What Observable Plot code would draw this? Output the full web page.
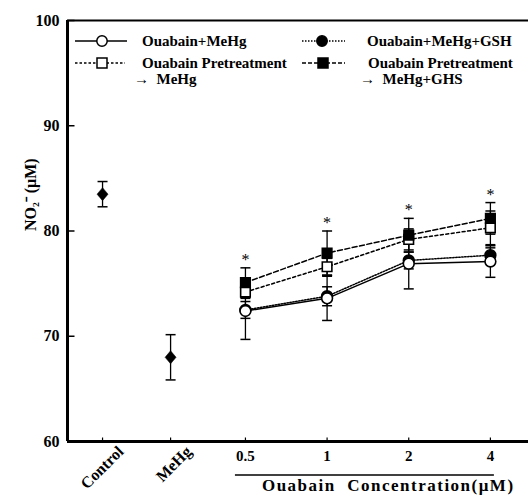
<!DOCTYPE html>
<html><head><meta charset="utf-8">
<script src="https://cdn.jsdelivr.net/npm/d3@7"></script>
<script src="https://cdn.jsdelivr.net/npm/@observablehq/plot@0.6"></script>
<style>
body{margin:0;background:#fff}
#chart svg{display:block}
</style>
</head><body><div id="chart"></div>
<script>
// ---- data ----
const categories = ["Control", "MeHg", "0.5", "1", "2", "4"];
const concentrations = ["0.5", "1", "2", "4"];
const singleGroups = ["Control", "MeHg"];
const singleMean = [83.5, 68.0];
const singleErr = [1.2, 2.15];

const seriesNames = ["Ouabain+MeHg", "Ouabain+MeHg+GSH", "Ouabain Pretreatment → MeHg", "Ouabain Pretreatment → MeHg+GHS"];
const ouabainMeHg = [72.4, 73.6, 76.9, 77.1];
const ouabainMeHgErr = [2.7, 2.1, 2.4, 1.5];
const ouabainMeHgGSH = [72.5, 73.8, 77.2, 77.7];
const ouabainMeHgGSHErr = [0.8, 0.9, 0.8, 0.7];
const pretreatMeHg = [74.2, 76.6, 79.2, 80.3];
const pretreatMeHgErr = [0.6, 0.8, 1.0, 1.6];
const pretreatMeHgGHS = [75.1, 77.9, 79.6, 81.2];
const pretreatMeHgGHSErr = [1.4, 2.1, 1.6, 1.5];
const yTicks = [60, 70, 80, 90, 100];

// ---- layout (axis slot for each category on the x scale) ----
const slot = {"Control": 0, "MeHg": 1, "0.5": 2.1, "1": 3.3, "2": 4.5, "4": 5.7};
const FONT = "'Liberation Serif','Times New Roman',serif";

const means = [ouabainMeHg, ouabainMeHgGSH, pretreatMeHg, pretreatMeHgGHS];
const errs = [ouabainMeHgErr, ouabainMeHgGSHErr, pretreatMeHgErr, pretreatMeHgGHSErr];
const rows = [];
seriesNames.forEach((s, i) => concentrations.forEach((c, j) => rows.push({series: s, si: i, cat: c, x: slot[c], y: means[i][j], e: errs[i][j]})));
const single = singleGroups.map((g, i) => ({cat: g, x: slot[g], y: singleMean[i], e: singleErr[i]}));
const bySeries = i => rows.filter(d => d.si === i);

const tickRight = {draw(ctx) { ctx.moveTo(0, 0); ctx.lineTo(7, 0); }};
const tickUp = {draw(ctx) { ctx.moveTo(0, 0); ctx.lineTo(0, -4); }};
const cap = {draw(ctx) { ctx.moveTo(-5, 0); ctx.lineTo(5, 0); }};
const wideDiamond = {draw(ctx) { ctx.moveTo(0, -6.5); ctx.lineTo(5.5, 0); ctx.lineTo(0, 6.5); ctx.lineTo(-5.5, 0); ctx.closePath(); }};

const dashes = ["none", "1.5,1.5", "3,2.5", "5,2.5"];
const symbols = ["circle", "circle", "square", "square"];
const fills = ["white", "black", "white", "black"];
const drawOrder = [1, 0, 2, 3];

const errMarks = (data) => [
  Plot.ruleX(data, {x: "x", y1: d => d.y - d.e, y2: d => d.y + d.e, stroke: "black", strokeWidth: 1.3}),
  Plot.dot(data, {x: "x", y: d => d.y - d.e, symbol: cap, fill: "none", stroke: "black", strokeWidth: 1.5}),
  Plot.dot(data, {x: "x", y: d => d.y + d.e, symbol: cap, fill: "none", stroke: "black", strokeWidth: 1.5})
];

const chart = Plot.plot({
  width: 528, height: 496,
  marginLeft: 67, marginRight: 0, marginTop: 20, marginBottom: 55,
  style: {fontFamily: FONT, fontWeight: "bold", fontSize: "15px", background: "white", overflow: "visible", color: "black"},
  x: {type: "linear", domain: [-0.515, 6.26], axis: null},
  y: {domain: [60, 100], axis: null},
  marks: [
    // lines
    ...[0, 1, 2, 3].map(i => Plot.line(bySeries(i), {x: "x", y: "y", stroke: "black", strokeWidth: 1.5, strokeDasharray: dashes[i]})),
    // error bars
    ...errMarks(rows),
    ...errMarks(single),
    // markers
    ...drawOrder.map(i => Plot.dot(bySeries(i), {x: "x", y: "y", symbol: symbols[i], r: 5.4, fill: fills[i], stroke: "black", strokeWidth: 1.6})),
    Plot.dot(single, {x: "x", y: "y", symbol: wideDiamond, fill: "black", stroke: "black", strokeWidth: 0.5}),
    // significance asterisks
    Plot.text(bySeries(3), {x: "x", y: d => d.y + d.e, text: () => "*", dy: -8, fontSize: 16, fontWeight: "normal", fill: "black"}),
    // frame
    Plot.ruleX([-0.515], {stroke: "black", strokeWidth: 3}),
    Plot.ruleY([60], {stroke: "black", strokeWidth: 3}),
    Plot.ruleY([100], {stroke: "black", strokeWidth: 2}),
    // y axis ticks + labels
    Plot.dot(yTicks, {y: d => d, frameAnchor: "left", symbol: tickRight, fill: "none", stroke: "black", strokeWidth: 1.5}),
    Plot.text(yTicks, {y: d => d, frameAnchor: "left", textAnchor: "end", dx: -8, text: d => String(d), fontSize: 16, fill: "black"}),
    Plot.text(["NO₂⁻ (μM)"], {frameAnchor: "left", dx: -37, rotate: -90, text: d => d, fontSize: 16, fill: "black"}),
    // x axis ticks + labels
    Plot.dot(categories, {x: d => slot[d], frameAnchor: "bottom", symbol: tickUp, fill: "none", stroke: "black", strokeWidth: 1.2}),
    Plot.text(concentrations, {x: d => slot[d], frameAnchor: "bottom", dy: 19, text: d => d, fontSize: 15, fill: "black"}),
    Plot.text(singleGroups, {x: d => slot[d], frameAnchor: "bottom", textAnchor: "end", rotate: -45, dx: 22, dy: 11, text: d => d, fontSize: 16, fill: "black"})
  ]
});

const svg = d3.select(chart);
const xs = chart.scale("x");
// x title underline and title
const u1 = xs.apply(slot["0.5"]) - 10, u2 = xs.apply(slot["4"]) + 4;
svg.append("line").attr("x1", u1).attr("x2", u2).attr("y1", 475).attr("y2", 475).attr("stroke", "black").attr("stroke-width", 1.3);
svg.append("text").attr("x", u1 + 27).attr("y", 491).attr("text-anchor", "start").attr("font-family", FONT).attr("font-weight", "bold")
  .attr("font-size", 17).attr("letter-spacing", "1.5px").attr("fill", "black").attr("xml:space", "preserve")
  .text("Ouabain  Concentration(μM)");

// legend
const leg = svg.append("g").attr("font-family", FONT).attr("font-weight", "bold").attr("font-size", 15)
  .attr("text-anchor", "start").attr("fill", "black");
const legItems = [
  {i: 0, lx: 75, lw: 52, mx: 102, y: 41, tx: 142, lines: ["Ouabain+MeHg"], dash: "none"},
  {i: 1, lx: 302, lw: 43, mx: 322, y: 41, tx: 367, lines: ["Ouabain+MeHg+GSH"], dash: "1.5,1.5"},
  {i: 2, lx: 75, lw: 50, mx: 102, y: 63, tx: 142, lines: ["Ouabain Pretreatment", "→  MeHg"], dash: "2.5,2"},
  {i: 3, lx: 302, lw: 43, mx: 323, y: 63, tx: 368, lines: ["Ouabain Pretreatment", "→  MeHg+GHS"], dash: "4,2"}
];
legItems.forEach(it => {
  leg.append("line").attr("x1", it.lx).attr("x2", it.lx + it.lw).attr("y1", it.y).attr("y2", it.y)
    .attr("stroke", "black").attr("stroke-width", 1.4).attr("stroke-dasharray", it.dash);
  const sym = d3.symbol().type(symbols[it.i] === "circle" ? d3.symbolCircle : d3.symbolSquare).size(symbols[it.i] === "circle" ? 85 : 100);
  leg.append("path").attr("d", sym()).attr("transform", `translate(${it.mx},${it.y})`)
    .attr("fill", fills[it.i]).attr("stroke", "black").attr("stroke-width", 1.5);
  it.lines.forEach((t, k) => {
    leg.append("text").attr("x", k === 0 ? it.tx : it.tx - 8).attr("y", it.y + 5 + k * 16)
      .attr("xml:space", "preserve").text(t);
  });
});

document.getElementById("chart").appendChild(chart);
</script>
</body></html>
